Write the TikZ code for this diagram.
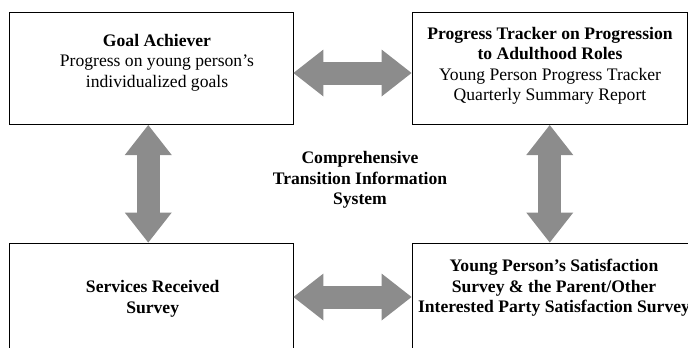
\documentclass[tikz,border=0pt]{standalone}
\usepackage{fontspec}
\setmainfont{Liberation Serif}
\usetikzlibrary{arrows.meta, positioning, calc}
\definecolor{arrowgray}{HTML}{8C8C8C}

\begin{document}
\begin{tikzpicture}[x=1pt, y=-1pt, font=\fontsize{17.6}{20.5}\selectfont,
    infobox/.style={rectangle, draw=black, line width=0.9pt, minimum width=283.5pt,
      minimum height=112pt, inner sep=0pt},
    boxtext/.style={align=center, inner sep=0pt},
    boldtext/.style={boxtext, font=\fontsize{17.6}{20.5}\selectfont\bfseries},
    bigarrow/.style={arrowgray, line width=23pt,
      {Triangle[length=30pt, width=47pt, line width=0pt]}-{Triangle[length=30pt, width=47pt, line width=0pt]}},
  ]
    \useasboundingbox (0,0) rectangle (688,348);
    \clip (0,0) rectangle (688,348);

    % the four report boxes
    \node[infobox] (goal) at (151.25, 68.6) {};
    \node[infobox, minimum width=275.5pt] (tracker) at (549.75, 68.6) {};
    \node[infobox] (services) at (151.25, 299) {};
    \node[infobox, minimum width=284pt] (satisfy) at (554, 299) {};

    \node[boxtext] (goalText) at (157, 62.5)
      {\textbf{Goal Achiever}\\Progress on young person’s\\individualized goals};
    \node[boxtext] (trackerText) at (550, 66)
      {\textbf{Progress Tracker on Progression}\\\textbf{to Adulthood Roles}\\Young Person Progress Tracker\\Quarterly Summary Report};
    \node[boldtext] (servicesText) at (152.7, 299)
      {Services Received\\Survey};
    \node[boldtext] (satisfyText) at (554, 288)
      {Young Person’s Satisfaction\\Survey \& the Parent/Other\\Interested Party Satisfaction Survey};

    \node[boldtext] (system) at (360, 180)
      {Comprehensive\\Transition Information\\System};

    % two-way links
    \draw[bigarrow] ([yshift=-4.4pt]goal.east) -- ([yshift=-4.4pt]tracker.west);
    \draw[bigarrow] ([xshift=-3pt]goal.south) -- ([xshift=-3pt]services.north);
    \draw[bigarrow] (tracker.south) -- (tracker.south |- satisfy.north);
    \draw[bigarrow] ([yshift=2pt]services.east) -- ([yshift=2pt]satisfy.west);
  \end{tikzpicture}
\end{document}
